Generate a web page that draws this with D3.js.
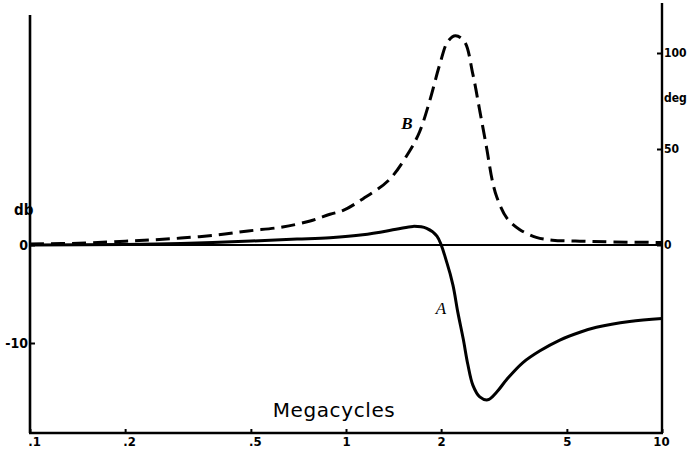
<!DOCTYPE html>
<html><head><meta charset="utf-8">
<script src="https://cdn.jsdelivr.net/npm/d3@7"></script>
<style>html,body{margin:0;padding:0;background:#fff;}svg{display:block;}</style>
</head><body>
<script>
// ---- data ----
const freqTicks = [0.1, 0.2, 0.5, 1, 2, 5, 10];
const freqTickLabels = [".1", ".2", ".5", "1", "2", "5", "10"];
const dbTicks = [0, -10];
const dbTickLabels = ["0", "-10"];
const degTicks = [0, 50, 100];
const degTickLabels = ["0", "50", "100"];

// Curve A: gain (db) vs frequency (Mc)
const freqA = [0.1, 0.2, 0.3, 0.5, 0.7, 0.89, 1.13, 1.44, 1.63, 1.8, 1.94, 2.09, 2.18, 2.26, 2.35, 2.43, 2.52, 2.65, 2.81, 3.0, 3.23, 3.63, 4.11, 4.75, 5.5, 6.2, 7.9, 10];
const dbA   = [0, 0.05, 0.15, 0.4, 0.6, 0.75, 1.05, 1.6, 1.9, 1.7, 0.9, -1.9, -4.1, -6.9, -9.6, -12.2, -14.3, -15.5, -15.8, -15.0, -13.7, -12.0, -10.8, -9.7, -8.9, -8.4, -7.8, -7.5];

// Curve B: phase (deg) vs frequency (Mc)
const freqB = [0.1, 0.15, 0.2, 0.24, 0.3, 0.39, 0.49, 0.63, 0.77, 0.89, 0.98, 1.13, 1.37, 1.59, 1.71, 1.84, 1.98, 2.1, 2.22, 2.37, 2.52, 2.65, 2.79, 2.9, 3.0, 3.23, 3.55, 4.0, 4.5, 5.5, 7, 10];
const degB  = [0.5, 1, 2, 2.6, 3.6, 5.2, 7.3, 9.4, 12.5, 16, 18, 24, 34, 49, 59, 75, 94, 106, 109, 106, 89, 70, 50, 34, 25, 14, 8, 4, 2.5, 2, 1.6, 1.3];

// ---- drawing ----
const W = 687, H = 454;
const svg = d3.select("body").append("svg").attr("width", W).attr("height", H);

const x = d3.scaleLog().domain([0.1, 10]).range([30, 662]);
const yDb = d3.scaleLinear().domain([0, -10]).range([245, 343]);
const yDeg = d3.scaleLinear().domain([0, 100]).range([245, 53]);

const bottomY = 433;
const tickFont = "'DejaVu Sans',sans-serif";

// axes lines
svg.append("line").attr("x1", x(0.1)).attr("x2", x(0.1)).attr("y1", 15).attr("y2", bottomY)
  .attr("stroke", "#000").attr("stroke-width", 2.6);
svg.append("line").attr("x1", x(10)).attr("x2", x(10)).attr("y1", 3).attr("y2", bottomY)
  .attr("stroke", "#000").attr("stroke-width", 2.4);
svg.append("line").attr("x1", x(0.1) - 1).attr("x2", x(10) + 1).attr("y1", bottomY).attr("y2", bottomY)
  .attr("stroke", "#000").attr("stroke-width", 2.6);
// zero line
svg.append("line").attr("x1", x(0.1)).attr("x2", x(10)).attr("y1", yDb(0)).attr("y2", yDb(0))
  .attr("stroke", "#000").attr("stroke-width", 2);

// bottom axis via d3 axis (ticks pointing up)
const xAxis = d3.axisBottom(x).tickValues(freqTicks)
  .tickFormat((d, i) => freqTickLabels[i]).tickSize(-4).tickPadding(4);
const gx = svg.append("g").attr("transform", `translate(0,${bottomY})`).call(xAxis);
gx.select(".domain").remove();
gx.selectAll(".tick line").attr("stroke", "#000").attr("stroke-width", 2);
gx.selectAll(".tick text").attr("font-family", tickFont).attr("font-weight", "bold")
  .attr("font-stretch", "condensed").attr("font-size", 13).attr("fill", "#000")
  .attr("dx", (d, i) => freqTickLabels[i].startsWith(".") ? 4 : (d === 10 ? -1 : 0));

// left axis (db)
const yAxisL = d3.axisLeft(yDb).tickValues(dbTicks)
  .tickFormat((d, i) => dbTickLabels[i]).tickSize(-5).tickPadding(2);
const gl = svg.append("g").attr("transform", `translate(${x(0.1)},0)`).call(yAxisL);
gl.select(".domain").remove();
gl.selectAll(".tick line").attr("stroke", "#000").attr("stroke-width", 2);
gl.selectAll(".tick text").attr("font-family", tickFont).attr("font-weight", "bold")
  .attr("font-stretch", "condensed").attr("font-size", 14).attr("fill", "#000");

// right axis (deg)
const yAxisR = d3.axisRight(yDeg).tickValues(degTicks)
  .tickFormat((d, i) => degTickLabels[i]).tickSize(-5).tickPadding(2);
const gr = svg.append("g").attr("transform", `translate(${x(10)},0)`).call(yAxisR);
gr.select(".domain").remove();
gr.selectAll(".tick line").attr("stroke", "#000").attr("stroke-width", 2);
gr.selectAll(".tick text").attr("font-family", tickFont).attr("font-weight", "bold")
  .attr("font-stretch", "condensed").attr("font-size", 12).attr("fill", "#000");

// unit labels
svg.append("text").attr("x", 14).attr("y", 215).attr("font-family", tickFont)
  .attr("font-weight", "bold").attr("font-stretch", "condensed").attr("font-size", 15).text("db");
svg.append("text").attr("x", 664).attr("y", 102).attr("font-family", tickFont)
  .attr("font-weight", "bold").attr("font-stretch", "condensed").attr("font-size", 12).text("deg");
svg.append("text").attr("x", 334).attr("y", 417).attr("text-anchor", "middle")
  .attr("font-family", "'DejaVu Sans',sans-serif").attr("font-size", 20)
  .attr("letter-spacing", 0.6).text("Megacycles");

// curves
const lineA = d3.line().x((d, i) => x(freqA[i])).y(d => yDb(d)).curve(d3.curveCatmullRom.alpha(0.5));
svg.append("path").attr("d", lineA(dbA)).attr("fill", "none").attr("stroke", "#000")
  .attr("stroke-width", 3).attr("stroke-linejoin", "round");

const lineB = d3.line().x((d, i) => x(freqB[i])).y(d => yDeg(d)).curve(d3.curveCatmullRom.alpha(0.5));
svg.append("path").attr("d", lineB(degB)).attr("fill", "none").attr("stroke", "#000")
  .attr("stroke-width", 3).attr("stroke-dasharray", "14,7");

// curve labels
svg.append("text").attr("x", 407).attr("y", 129).attr("text-anchor", "middle")
  .attr("font-family", "'Liberation Serif',serif").attr("font-style", "italic")
  .attr("font-weight", "bold").attr("font-size", 17).text("B");
svg.append("text").attr("x", 441).attr("y", 314).attr("text-anchor", "middle")
  .attr("font-family", "'Liberation Serif',serif").attr("font-style", "italic")
  .attr("font-size", 17).text("A");
</script>
</body></html>
